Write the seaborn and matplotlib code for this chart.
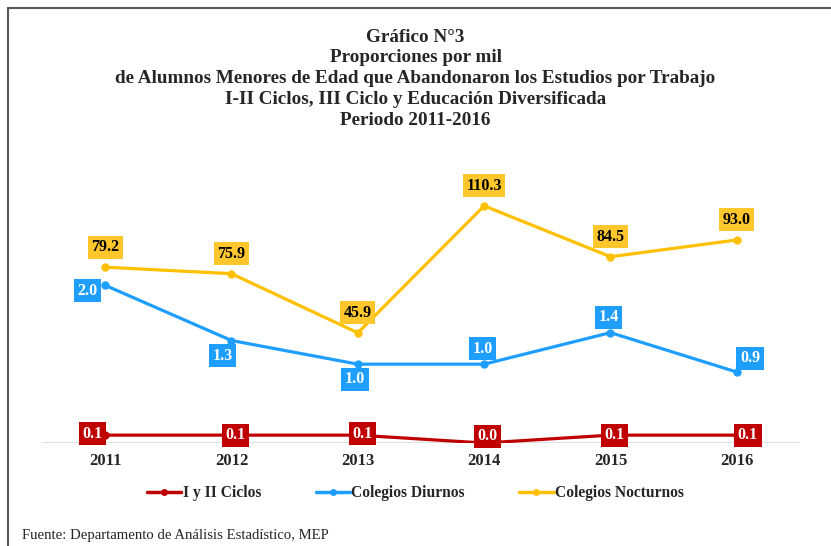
import matplotlib
matplotlib.use("Agg")
import matplotlib.pyplot as plt
import seaborn as sns
import pandas as pd
from matplotlib.lines import Line2D

anios = ["2011", "2012", "2013", "2014", "2015", "2016"]
ciclos_1_2 = [0.1, 0.1, 0.1, 0.0, 0.1, 0.1]
diurnos = [2.0, 1.3, 1.0, 1.0, 1.4, 0.9]
nocturnos = [79.2, 75.9, 45.9, 110.3, 84.5, 93.0]

rojo = "#C00000"
azul = "#1E9EFF"
amarillo = "#FFC000"

sns.set_theme(style="white")
plt.rcParams["font.family"] = ["Liberation Serif", "DejaVu Serif"]

df = pd.DataFrame({"anio": anios, "ciclos": ciclos_1_2,
                   "diurnos": diurnos, "nocturnos": nocturnos})
df["x"] = range(len(df))

fig = plt.figure(figsize=(8.31, 5.46), dpi=100)
ax = fig.add_axes([0.0505, 0.1886, 0.9122, 0.5055])
ax2 = ax.twinx()

sns.lineplot(data=df, x="x", y="diurnos", ax=ax, color=azul, lw=2.3,
             marker="o", markersize=6, markeredgewidth=0)
sns.lineplot(data=df, x="x", y="ciclos", ax=ax, color=rojo, lw=2.3,
             marker="o", markersize=6, markeredgewidth=0)
sns.lineplot(data=df, x="x", y="nocturnos", ax=ax2, color=amarillo, lw=2.3,
             marker="o", markersize=6, markeredgewidth=0)

ax.set_ylim(0, 3.5)
ax2.set_ylim(-10, 130)
ax.set_xlim(-0.5, 5.5)
for a in (ax, ax2):
    a.set_ylabel("")
    a.set_yticks([])
    for s in a.spines.values():
        s.set_visible(False)
ax.set_xlabel("")
ax.set_xticks(df["x"])
ax.set_xticklabels(anios, fontsize=12, fontweight="bold")
ax.tick_params(axis="x", length=0, pad=7)
ax.axhline(0, color="#d9d9d9", lw=1.2, zorder=0)


def etiqueta(a, x, y, texto, fondo, color, dx=0, dy=0):
    a.annotate(texto, (x, y), xytext=(dx, dy), textcoords="offset points",
               ha="center", va="center", fontsize=11.5, fontweight="bold",
               color=color, zorder=10,
               bbox=dict(boxstyle="square,pad=0.22", fc=fondo, ec="none"))


for i, v in enumerate(nocturnos):
    etiqueta(ax2, i, v, f"{v:.1f}", "#FFC72C", "black", 0, 14.5)

desp_azul = [(-13, -4), (-6.5, -11), (-2, -11), (-1, 11), (-1.5, 11), (9.5, 10)]
for i, v in enumerate(diurnos):
    dx, dy = desp_azul[i]
    etiqueta(ax, i, v, f"{v:.1f}", azul, "white", dx, dy)

desp_rojo = [(-9, 1), (3, 0), (3.5, 1), (2.5, 5), (3, 0), (8, 0)]
for i, v in enumerate(ciclos_1_2):
    dx, dy = desp_rojo[i]
    etiqueta(ax, i, v, f"{v:.1f}", rojo, "white", dx, dy)

manejadores = [
    Line2D([], [], color=rojo, lw=2.5, marker="o", markersize=5, markeredgewidth=0),
    Line2D([], [], color=azul, lw=2.5, marker="o", markersize=5, markeredgewidth=0),
    Line2D([], [], color=amarillo, lw=2.5, marker="o", markersize=5, markeredgewidth=0),
]
fig.legend(manejadores, ["I y II Ciclos", "Colegios Diurnos", "Colegios Nocturnos"],
           loc="center", bbox_to_anchor=(0.5, 1 - 493 / 546), ncol=3, frameon=False,
           prop={"weight": "bold", "size": 11.2}, handlelength=2.2,
           handletextpad=0.1, columnspacing=3.5)

titulo = ["Gráfico N°3", "Proporciones por mil",
          "de Alumnos Menores de Edad que Abandonaron los Estudios por Trabajo",
          "I-II Ciclos, III Ciclo y Educación Diversificada",
          "Periodo 2011-2016"]
for k, linea in enumerate(titulo):
    fig.text(0.5, 1 - (37 + k * 20.8) / 546, linea, ha="center", va="center",
             fontsize=13.8, fontweight="bold")

fig.text(22 / 831, 1 - 535 / 546, "Fuente: Departamento de Análisis Estadístico, MEP",
         ha="left", va="center", fontsize=10.6)

fig.add_artist(Line2D([8 / 831, 1], [1 - 8 / 546, 1 - 8 / 546],
                      transform=fig.transFigure, color="#595959", lw=1.5))
fig.add_artist(Line2D([8 / 831, 8 / 831], [0, 1 - 8 / 546],
                      transform=fig.transFigure, color="#595959", lw=1.5))

fig.savefig("out.png", dpi=100)
